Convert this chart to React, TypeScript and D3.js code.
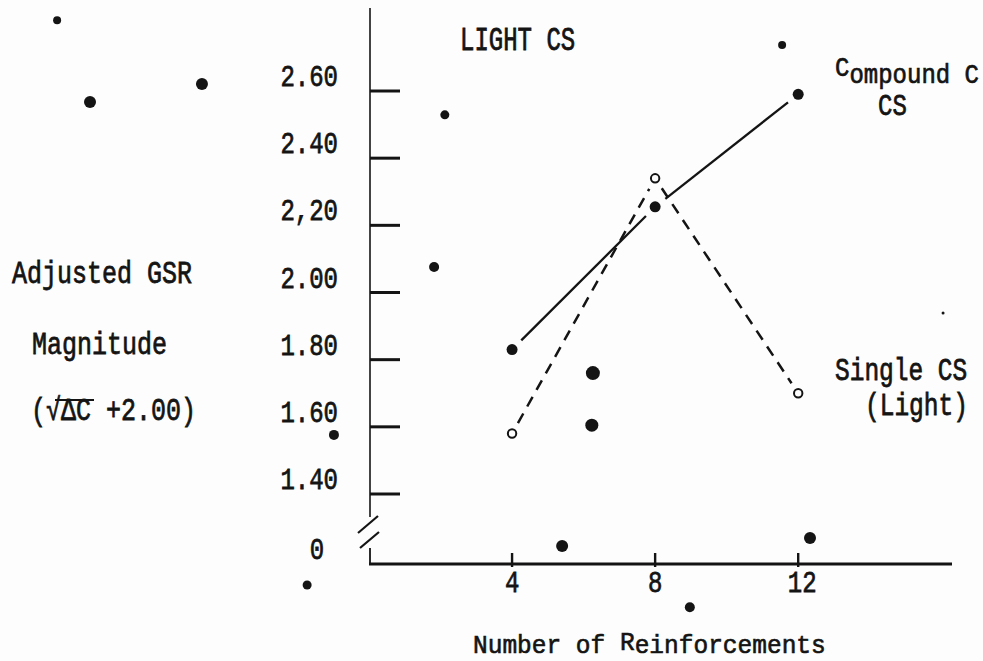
import React from "react";
import * as d3 from "d3";

// values
const reinforcements = [4, 8, 12];
const compoundCS = [1.83, 2.255, 2.59];
const singleCS = [1.58, 2.34, 1.7];

const yTickValues = [2.6, 2.4, 2.2, 2.0, 1.8, 1.6, 1.4];
const yTickLabels = ["2.60", "2.40", "2,20", "2.00", "1.80", "1.60", "1.40"];
const xTickValues = [4, 8, 12];
const xTickLabels = ["4", "8", "12"];

// loose specks on the scanned sheet, in chart units [reinforcements, value]
const strayDots = [
  [-8.72, 2.811], [-7.8, 2.567], [-4.67, 2.621], [2.12, 2.529], [1.82, 2.076],
  [-0.98, 1.576], [-1.73, 1.129], [5.4, 1.245], [6.26, 1.76], [6.23, 1.605],
  [8.97, 1.063], [11.55, 2.737], [12.33, 1.269], [16.05, 1.939],
];
const strayRadius = [4, 6, 6, 4.5, 5, 5, 4.5, 6, 7, 6.5, 5, 4, 6, 1.5];

const W = 983, H = 661;
const axisX = 370, baseY = 564;

const x = d3.scaleLinear().domain([0, 16.3]).range([369, 952]);
const y = d3.scaleLinear().domain([1.4, 2.6]).range([494, 91]);

const ink = "#141414";
const typeFont = "'Liberation Mono', 'Courier New', monospace";

const Typed = ({ x, y, size = 24, stretch = 1.25, anchor = "start", children }: any) => (
  <text
    transform={`translate(${x},${y}) scale(1,${stretch})`}
    textAnchor={anchor}
    fontFamily={typeFont}
    fontSize={size}
    fill={ink}
    stroke={ink}
    strokeWidth={0.6}
  >
    {children}
  </text>
);

// leave a small gap where a line meets its markers
function trimmed(a: number[], b: number[], gap: number) {
  const dx = b[0] - a[0], dy = b[1] - a[1];
  const len = Math.hypot(dx, dy);
  return [a[0] + (dx / len) * gap, a[1] + (dy / len) * gap, b[0] - (dx / len) * gap, b[1] - (dy / len) * gap];
}

const App = () => {
  const compoundPts = reinforcements.map((r, i) => [x(r), y(compoundCS[i])]);
  const singlePts = reinforcements.map((r, i) => [x(r), y(singleCS[i])]);

  return (
    <svg width={W} height={H} style={{ position: "absolute", left: 0, top: 0, background: "#fdfdfd" }}>
      {/* y axis with break */}
      <line x1={axisX} y1={8} x2={axisX} y2={517} stroke={ink} strokeWidth={1.6} />
      <line x1={axisX} y1={548} x2={axisX} y2={baseY} stroke={ink} strokeWidth={1.8} />
      <line x1={358} y1={533} x2={378} y2={516} stroke={ink} strokeWidth={2.2} />
      <line x1={360} y1={548} x2={379} y2={532} stroke={ink} strokeWidth={2.2} />

      {yTickValues.map((v, i) => (
        <g key={v}>
          <line x1={axisX} x2={axisX + 30} y1={y(v)} y2={y(v)} stroke={ink} strokeWidth={3} />
          <Typed x={338} y={y(v) - 5} anchor="end">{yTickLabels[i]}</Typed>
        </g>
      ))}
      <Typed x={317} y={baseY - 5} anchor="middle">0</Typed>

      {/* x axis */}
      <line x1={x(0)} x2={x(16.3)} y1={baseY} y2={baseY} stroke={ink} strokeWidth={3.2} />
      {xTickValues.map((v, i) => (
        <g key={v}>
          <line x1={x(v)} x2={x(v)} y1={baseY - 11} y2={baseY + 3} stroke={ink} strokeWidth={2.4} />
          <Typed x={x(v) + (v === 12 ? 4 : 0)} y={592} anchor="middle">{xTickLabels[i]}</Typed>
        </g>
      ))}

      {/* series lines */}
      {d3.pairs(compoundPts).map(([a, b], i) => {
        const [x1, y1, x2, y2] = trimmed(a, b, 13);
        return <line key={"c" + i} x1={x1} y1={y1} x2={x2} y2={y2} stroke={ink} strokeWidth={2.3} />;
      })}
      {d3.pairs(singlePts).map(([a, b], i) => {
        const [x1, y1, x2, y2] = trimmed(a, b, 12);
        return (
          <line key={"s" + i} x1={x1} y1={y1} x2={x2} y2={y2} stroke={ink} strokeWidth={2.5} strokeDasharray="11 8" />
        );
      })}

      {compoundPts.map(([cx, cy], i) => (
        <circle key={"cp" + i} cx={cx} cy={cy} r={5.5} fill={ink} />
      ))}
      {singlePts.map(([cx, cy], i) => (
        <circle key={"sp" + i} cx={cx} cy={cy} r={4.2} fill="#fdfdfd" stroke={ink} strokeWidth={2} />
      ))}

      {strayDots.map(([sx, sy], i) => (
        <circle key={"d" + i} cx={x(sx)} cy={y(sy)} r={strayRadius[i]} fill={ink} />
      ))}

      {/* labels */}
      <Typed x={460} y={50} stretch={1.35}>LIGHT CS</Typed>

      <text fontFamily={typeFont} fontSize={24} fill={ink} stroke={ink} strokeWidth={0.6} transform="translate(835,83) scale(1,1.15)">
        <tspan dy={-6}>C</tspan>
        <tspan dy={6}>ompound C</tspan>
      </text>
      <Typed x={878} y={115}>CS</Typed>

      <Typed x={835} y={380} size={24.5}>Single CS</Typed>
      <Typed x={865} y={415} size={24.5}>(Light)</Typed>

      <Typed x={12} y={283} size={25}>Adjusted GSR</Typed>
      <Typed x={32} y={354} size={25}>Magnitude</Typed>
      <Typed x={31} y={420} size={25}>(√ΔC +2.00)</Typed>
      <line x1={55} x2={94} y1={400} y2={400} stroke={ink} strokeWidth={2} />

      <text fontFamily={typeFont} fontSize={24.5} fill={ink} stroke={ink} strokeWidth={0.6} transform="translate(473,653) scale(1,1.05)">
        Number of <tspan dy={-3}>R</tspan><tspan dy={3}>einforcements</tspan>
      </text>
    </svg>
  );
};

export default App;
